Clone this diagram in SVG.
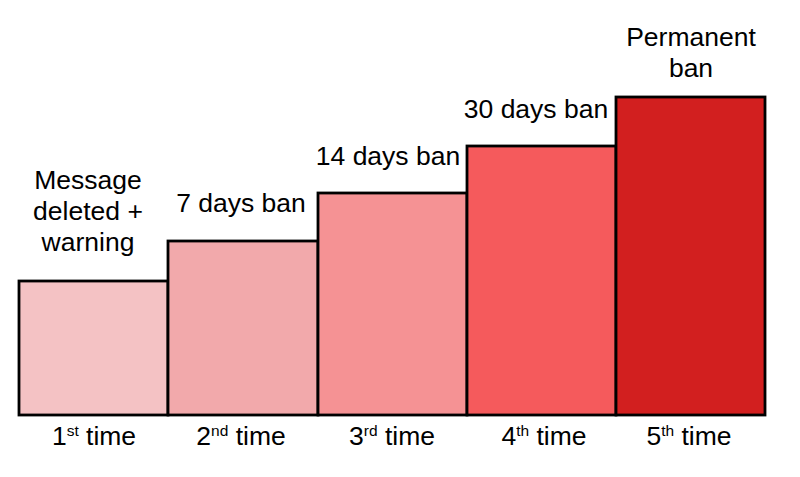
<svg xmlns="http://www.w3.org/2000/svg" width="800" height="477" viewBox="0 0 800 477">
<style>
.bar{stroke:#000;stroke-width:2.8}
text{font-family:"Liberation Sans",Arial,sans-serif;font-size:26.5px;fill:#000;text-anchor:middle}
.sup{font-size:15.5px}
</style>
<rect width="800" height="477" fill="#fff"/>
<g id="bar1"><rect class="bar" x="19" y="281" width="149" height="134" fill="#F4C2C4"/>
<text x="88" y="189">Message</text><text x="88" y="220">deleted +</text><text x="88" y="251">warning</text>
<text x="94" y="445">1<tspan class="sup" dy="-9">st</tspan><tspan dy="9"> time</tspan></text></g>
<g id="bar2"><rect class="bar" x="168" y="241" width="150" height="174" fill="#F2A9AB"/>
<text x="241" y="212">7 days ban</text>
<text x="241" y="445">2<tspan class="sup" dy="-9">nd</tspan><tspan dy="9"> time</tspan></text></g>
<g id="bar3"><rect class="bar" x="318" y="193" width="149" height="222" fill="#F59294"/>
<text x="388" y="165">14 days ban</text>
<text x="392" y="445">3<tspan class="sup" dy="-9">rd</tspan><tspan dy="9"> time</tspan></text></g>
<g id="bar4"><rect class="bar" x="467" y="146" width="149" height="269" fill="#F55A5C"/>
<text x="536" y="118">30 days ban</text>
<text x="544" y="445">4<tspan class="sup" dy="-9">th</tspan><tspan dy="9"> time</tspan></text></g>
<g id="bar5"><rect class="bar" x="616" y="97" width="149" height="318" fill="#D21F1F"/>
<text x="691" y="46">Permanent</text><text x="691" y="77">ban</text>
<text x="689" y="445">5<tspan class="sup" dy="-9">th</tspan><tspan dy="9"> time</tspan></text></g>
<g id="connectors"/>
</svg>
